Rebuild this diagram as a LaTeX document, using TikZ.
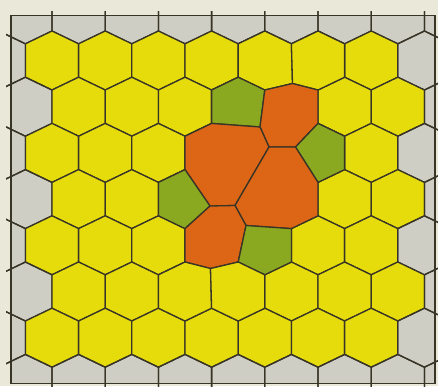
\documentclass[tikz,border=0pt]{standalone}
\usepackage{xcolor}
\usepackage{tikz}
\definecolor{mycream}{RGB}{234,232,216}
\definecolor{mygrey}{RGB}{206,206,196}
\definecolor{myyellow}{RGB}{230,220,12}
\definecolor{mygreen}{RGB}{138,168,32}
\definecolor{myorange}{RGB}{221,101,22}
\definecolor{myline}{RGB}{56,52,38}

\begin{document}
\begin{tikzpicture}[x=1pt, y=-1pt]
    \tikzstyle{edge}=[draw=myline, line width=1.3pt, line join=round]
    \tikzstyle{yel}=[edge, fill=myyellow]
    \tikzstyle{grn}=[edge, fill=mygreen]
    \tikzstyle{org}=[edge, fill=myorange]
    \useasboundingbox (0,0) rectangle (438,386);
    \fill[mycream] (0,0) rectangle (438,386);
    \fill[mygrey] (11,15.5) rectangle (435,383.5);
    % regular cells
    \begin{scope}
      \clip (6,11) rectangle (440,390);
      \foreach \r in {0,...,8}
        \foreach \c in {0,...,8} {
          \pgfmathsetmacro\cx{52+53.2*(\c-1)+mod(\r+1,2)*26.6}
          \pgfmathsetmacro\cy{60.5+46.2*(\r-1)}
          \pgfmathtruncatemacro\inside{(\r>0)*(\r<8)*(\c>0)*(\c<8)}
          \ifnum\inside=1
            \path[yel] (\cx,\cy-29.5) -- ++(26.6,12.8) -- ++(0,33.4) -- ++(-26.6,12.8) -- ++(-26.6,-12.8) -- ++(0,-33.4) -- cycle;
          \else
            \path[edge] (\cx,\cy-29.5) -- ++(26.6,12.8) -- ++(0,33.4) -- ++(-26.6,12.8) -- ++(-26.6,-12.8) -- ++(0,-33.4) -- cycle;
          \fi
        }
    \end{scope}
    % moved junctions
    \coordinate (top) at (292.5,83.5);
    \coordinate (j1) at (260,127);
    \coordinate (j2) at (269,147);
    \coordinate (j3) at (295.5,147);
    \coordinate (j4) at (210,206);
    \coordinate (j5) at (235,205.5);
    \coordinate (j6) at (246,225.5);
    \coordinate (bot) at (210.5,268.5);
    % defect cluster
    \path[yel] (264.8,31) -- (291.4,43.8) -- (top) -- (264.8,90) -- (238.2,77.2) -- (238.2,43.8) -- cycle;
    \path[yel] (318,31) -- (344.6,43.8) -- (344.6,77.2) -- (318,90) -- (top) -- (291.4,43.8) -- cycle;
    \path[grn] (211.6,90) -- (238.2,77.2) -- (264.8,90) -- (j1) -- (211.6,123.4) -- cycle;
    \path[org] (264.8,90) -- (top) -- (318,90) -- (318,123.4) -- (j3) -- (j2) -- (j1) -- cycle;
    \path[org] (211.6,123.4) -- (j1) -- (j2) -- (j5) -- (j4) -- (185,169.6) -- (185,136.2) -- cycle;
    \path[grn] (318,123.4) -- (344.6,136.2) -- (344.6,169.6) -- (318,182.4) -- (j3) -- cycle;
    \path[org] (j2) -- (j3) -- (318,182.4) -- (318,215.8) -- (291.4,228.6) -- (j6) -- (j5) -- cycle;
    \path[grn] (185,169.6) -- (j4) -- (185,228.6) -- (158.4,215.8) -- (158.4,182.4) -- cycle;
    \path[org] (j4) -- (j5) -- (j6) -- (238.2,262) -- (bot) -- (185,262) -- (185,228.6) -- cycle;
    \path[grn] (j6) -- (291.4,228.6) -- (291.4,262) -- (264.8,274.8) -- (238.2,262) -- cycle;
    \path[yel] (185,262) -- (bot) -- (211.6,308.2) -- (185,321) -- (158.4,308.2) -- (158.4,274.8) -- cycle;
    \path[yel] (238.2,262) -- (264.8,274.8) -- (264.8,308.2) -- (238.2,321) -- (211.6,308.2) -- (bot) -- cycle;
    \draw[myline, line width=1.5pt] (11,15.5) rectangle (435,383.5);
\end{tikzpicture}
\end{document}
